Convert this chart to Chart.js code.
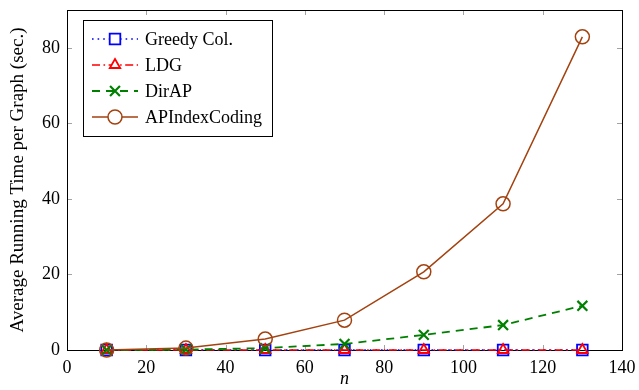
<!DOCTYPE html>
<html>
<head>
<meta charset="utf-8">
<script src="https://cdn.jsdelivr.net/npm/chart.js@4.4.1/dist/chart.umd.min.js"></script>
<style>
  html, body { margin: 0; padding: 0; background: #ffffff; }
  #wrap { width: 639px; height: 390px; }
</style>
</head>
<body>
<div id="wrap"><canvas id="chart" width="639" height="390"></canvas></div>
<script>
// data
const nValues      = [10, 30, 50, 70, 90, 110, 130];
const greedyCol    = [0, 0, 0, 0, 0, 0, 0];
const ldg          = [0, 0, 0, 0, 0, 0, 0];
const dirAP        = [0, 0.1, 0.5, 1.6, 4.0, 6.6, 11.7];
const apIndex      = [0, 0.5, 2.9, 7.9, 20.7, 38.7, 82.9];
const xTicks       = [0, 20, 40, 60, 80, 100, 120, 140];
const yTicks       = [0, 20, 40, 60, 80];

const BROWN = '#a3420f';
const SERIF = '"Liberation Serif", "DejaVu Serif", serif';

const toPts = (ys) => nValues.map((x, i) => ({x: x, y: ys[i]}));

//chart plugins [frameAndTicks] - box round the plot with inward ticks on every side
const frameAndTicks = {
    id: 'frameAndTicks',
    beforeDatasetsDraw: (chart) => {
        const {ctx, chartArea: {top, bottom, left, right}, scales: {x, y}} = chart;
        ctx.save();
        ctx.strokeStyle = '#8c8c8c';
        ctx.lineWidth = 0.8;
        const len = 5;
        ctx.beginPath();
        xTicks.forEach(v => {
            const px = Math.round(x.getPixelForValue(v)) + 0.5;
            ctx.moveTo(px, bottom); ctx.lineTo(px, bottom - len);
            ctx.moveTo(px, top); ctx.lineTo(px, top + len);
        });
        yTicks.forEach(v => {
            const py = Math.round(y.getPixelForValue(v)) + 0.5;
            ctx.moveTo(left, py); ctx.lineTo(left + len, py);
            ctx.moveTo(right, py); ctx.lineTo(right - len, py);
        });
        ctx.stroke();
        ctx.strokeStyle = '#000000';
        ctx.lineWidth = 1;
        ctx.strokeRect(left + 0.5, top + 0.5, right - left, bottom - top);
        ctx.restore();
    }
}

//chart plugins [lineLegend] - legend with line samples like pgfplots
const lineLegend = {
    id: 'lineLegend',
    afterDraw: (chart, args, opts) => {
        const {ctx} = chart;
        const bx = opts.x, by = opts.y, bw = opts.w, bh = opts.h;
        ctx.save();
        ctx.fillStyle = '#ffffff';
        ctx.fillRect(bx, by, bw, bh);
        ctx.strokeStyle = '#000000';
        ctx.lineWidth = 1;
        ctx.strokeRect(bx + 0.5, by + 0.5, bw, bh);

        chart.data.datasets.forEach((ds, row) => {
            const cy = by + 19 + row * 26;
            const x0 = bx + 9, x1 = bx + 55, mx = (x0 + x1) / 2;
            ctx.strokeStyle = ds.borderColor;
            ctx.lineWidth = ds.borderWidth;
            ctx.setLineDash(ds.borderDash || []);
            ctx.beginPath();
            ctx.moveTo(x0, cy); ctx.lineTo(x1, cy);
            ctx.stroke();
            ctx.setLineDash([]);
            ctx.strokeStyle = ds.pointBorderColor;
            ctx.fillStyle = '#ffffff';
            ctx.lineWidth = ds.pointBorderWidth;
            Chart.helpers.drawPoint(ctx, {
                pointStyle: ds.pointStyle,
                radius: ds.pointRadius,
                borderWidth: ds.pointBorderWidth,
                rotation: 0
            }, mx, cy);
            ctx.fillStyle = '#000000';
            ctx.font = '18px ' + SERIF;
            ctx.textBaseline = 'middle';
            ctx.textAlign = 'left';
            ctx.fillText(ds.label, bx + 62, cy + 1);
        });
        ctx.restore();
    }
}

const ctx = document.getElementById('chart');

let chart = new Chart(ctx, {
    type: 'line',
    data: {
        datasets: [{
            label: 'Greedy Col.',
            data: toPts(greedyCol),
            borderColor: '#0000ff',
            pointBorderColor: '#0000ff',
            pointBackgroundColor: 'rgba(0,0,0,0)',
            borderWidth: 1.6,
            borderDash: [1.6, 4],
            pointStyle: 'rect',
            pointRadius: 7.5,
            pointBorderWidth: 1.8,
            clip: false,
            order: 4
        }, {
            label: 'LDG',
            data: toPts(ldg),
            borderColor: '#ff0000',
            pointBorderColor: '#ff0000',
            pointBackgroundColor: 'rgba(0,0,0,0)',
            borderWidth: 1.6,
            borderDash: [8, 3.5, 1.6, 3.5],
            pointStyle: 'triangle',
            pointRadius: 6,
            pointBorderWidth: 1.8,
            clip: false,
            order: 3
        }, {
            label: 'DirAP',
            data: toPts(dirAP),
            borderColor: '#008000',
            pointBorderColor: '#008000',
            pointBackgroundColor: 'rgba(0,0,0,0)',
            borderWidth: 1.8,
            borderDash: [8, 6],
            pointStyle: 'crossRot',
            pointRadius: 7,
            pointBorderWidth: 2.2,
            clip: false,
            order: 2
        }, {
            label: 'APIndexCoding',
            data: toPts(apIndex),
            borderColor: BROWN,
            pointBorderColor: BROWN,
            pointBackgroundColor: 'rgba(0,0,0,0)',
            borderWidth: 1.5,
            borderDash: [],
            pointStyle: 'circle',
            pointRadius: 7,
            pointBorderWidth: 1.5,
            clip: false,
            order: 1
        }]
    },
    options: {
        responsive: false,
        animation: false,
        layout: {
            padding: {top: 10, right: 17, left: 0, bottom: 0}
        },
        scales: {
            x: {
                type: 'linear',
                min: 0,
                max: 140,
                grid: {display: false, drawTicks: false},
                border: {display: false},
                afterFit: (scale) => {
                    scale.height = 40;
                    scale.paddingLeft = 0;
                    scale.paddingRight = 0;
                },
                afterBuildTicks: (scale) => { scale.ticks = xTicks.map(v => ({value: v})); },
                ticks: {
                    color: '#000000',
                    padding: 7,
                    maxRotation: 0,
                    font: {family: SERIF, size: 18}
                },
                title: {
                    display: true,
                    text: 'n',
                    color: '#000000',
                    padding: {top: 0, bottom: 0},
                    font: {family: SERIF, size: 18, style: 'italic'}
                }
            },
            y: {
                min: 0,
                max: 90,
                grid: {display: false, drawTicks: false},
                border: {display: false},
                afterFit: (scale) => {
                    scale.width = 67;
                    scale.paddingTop = 0;
                    scale.paddingBottom = 0;
                },
                afterBuildTicks: (scale) => { scale.ticks = yTicks.map(v => ({value: v})); },
                ticks: {
                    color: '#000000',
                    padding: 7,
                    font: {family: SERIF, size: 18}
                },
                title: {
                    display: true,
                    text: 'Average Running Time per Graph (sec.)',
                    color: '#000000',
                    padding: {top: 7, bottom: 0},
                    font: {family: SERIF, size: 19}
                }
            }
        },
        plugins: {
            legend: {display: false},
            tooltip: {enabled: false},
            lineLegend: {x: 83, y: 20, w: 189, h: 116}
        }
    },
    plugins: [frameAndTicks, lineLegend]
});
</script>
</body>
</html>
